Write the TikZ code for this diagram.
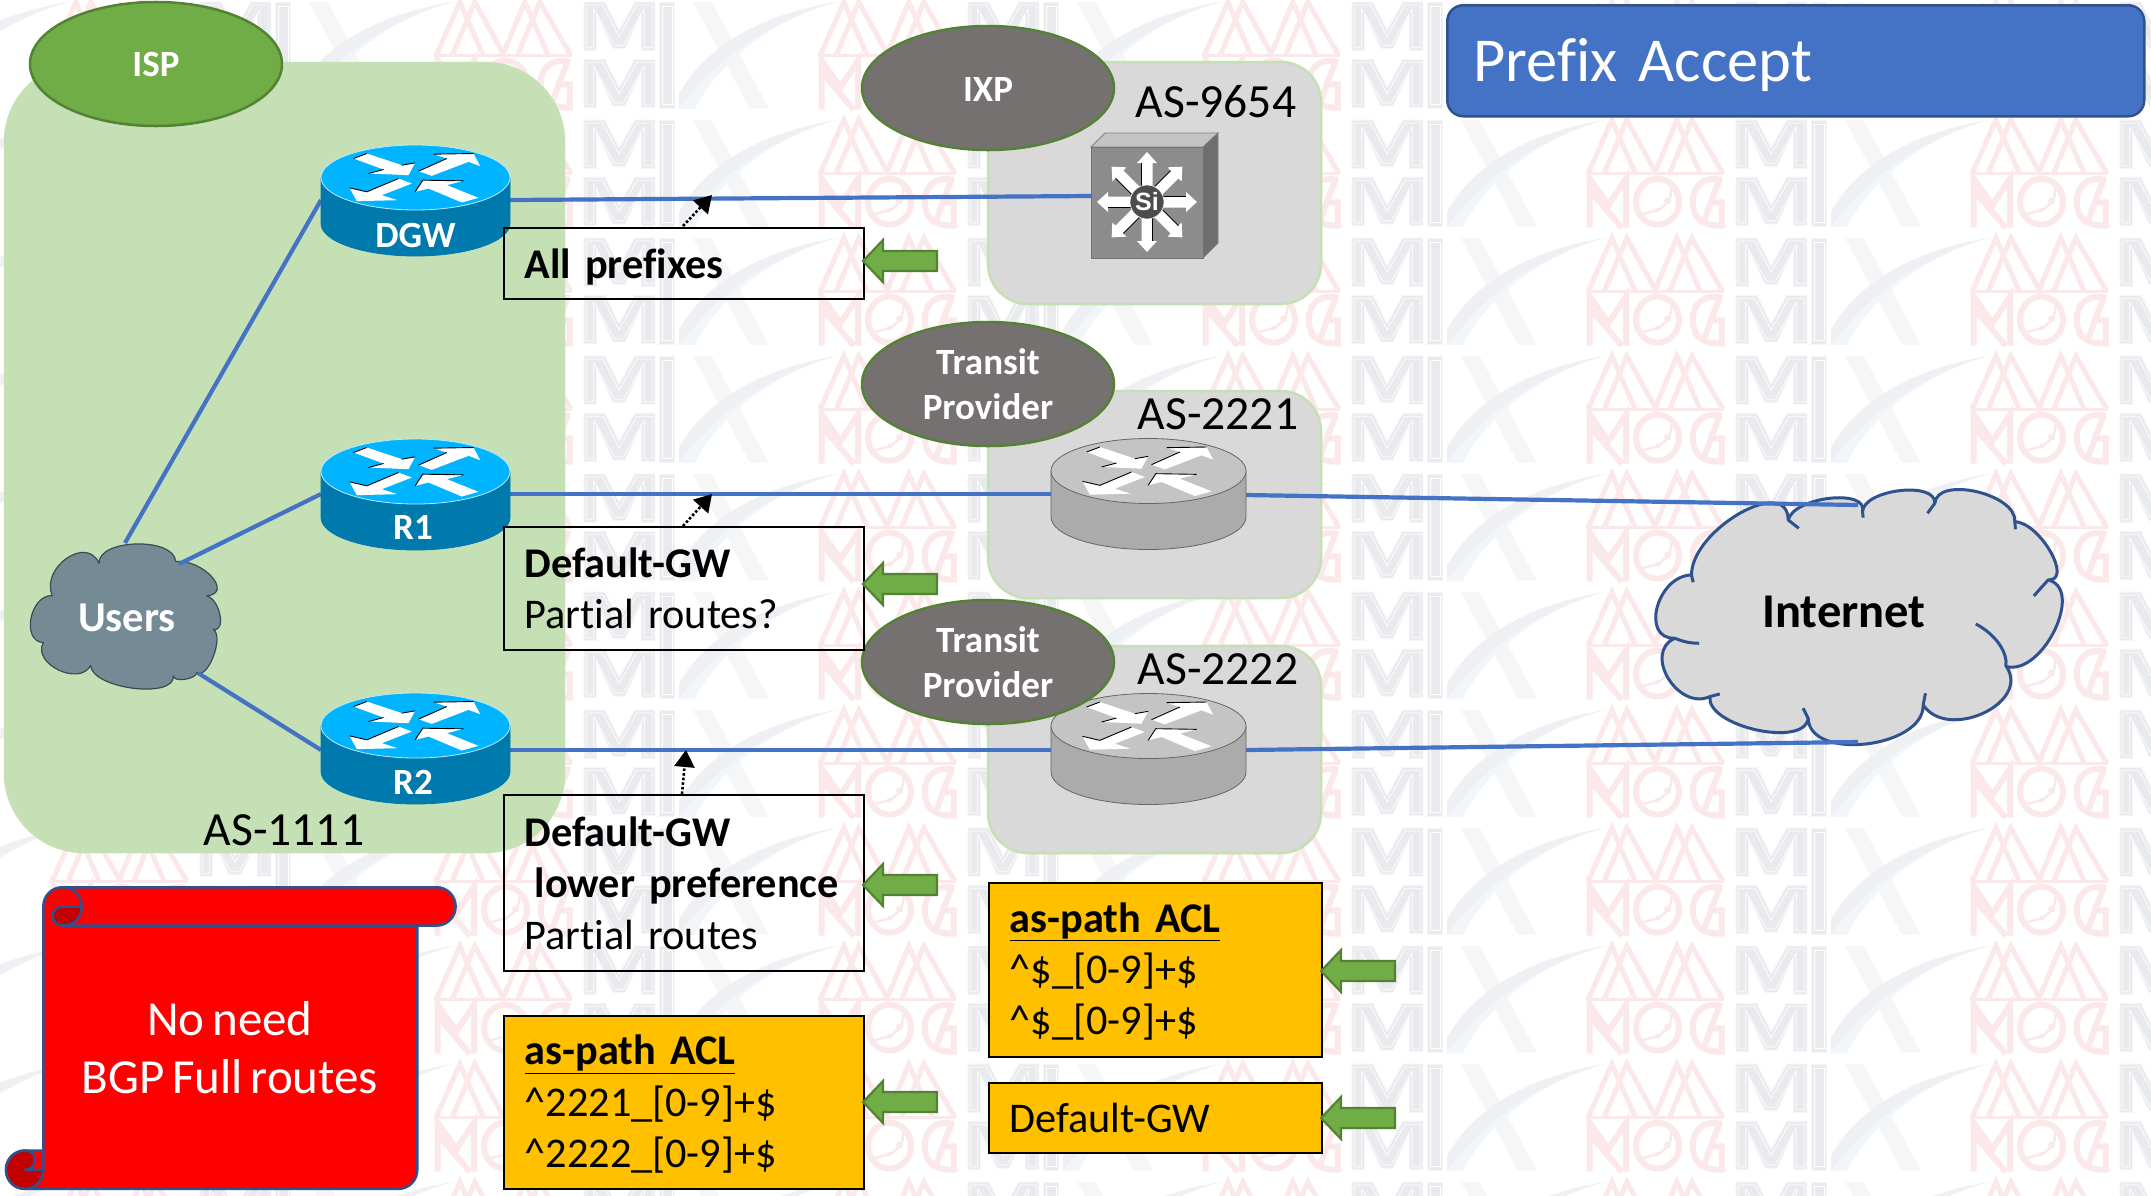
\documentclass[tikz,border=0pt]{standalone}
\usepackage{fontspec}
\setmainfont[Ligatures=NoCommon,WordSpace=0.7,BoldFeatures={WordSpace=0.45}]{Carlito}
\newfontfamily\sifont{Liberation Sans}
\usetikzlibrary{calc,arrows.meta}
\definecolor{lnblue}{HTML}{4472C4}
\definecolor{dkblue}{HTML}{2F528F}
\definecolor{lgreen}{HTML}{C5E0B4}
\definecolor{mgreen}{HTML}{70AD47}
\definecolor{dgreen}{HTML}{548235}
\definecolor{ggrey}{HTML}{D9D9D9}
\definecolor{egrey}{HTML}{767171}
\definecolor{yel}{HTML}{FFC000}
\definecolor{wmr}{HTML}{FBE9EA}
\definecolor{wmg}{HTML}{E8EAEE}
\definecolor{wms}{HTML}{EEF0F3}
\definecolor{wmx}{HTML}{F6F6F6}
\definecolor{wmb}{HTML}{F1F6FA}
\definecolor{cldgrey}{HTML}{748B96}
\definecolor{cldedge}{HTML}{3C4B50}
\definecolor{rtop}{HTML}{00B4FF}
\definecolor{rside}{HTML}{0079AC}
\definecolor{redge}{HTML}{BFE9FB}
\def\lobe#1#2#3{.. controls ($0.3333*(#1)+1.3333*(#2)-0.6667*(#3)$) and ($0.3333*(#3)+1.3333*(#2)-0.6667*(#1)$) .. (#3)}
\def\dn#1#2{\raisebox{-#1}[\height][\depth]{#2}}
\tikzset{
  link/.style={draw=lnblue,line width=4.2pt},
  hint/.style={draw=black,line width=2.6pt,dotted,-{Stealth[length=17pt,width=20pt,inset=0pt]}},
  grouparea/.style={fill=ggrey,draw=lgreen,line width=2.5pt,rounded corners=40pt},
  oval/.style={draw=dgreen,line width=2.5pt},
  txtbox/.style={anchor=north west,draw=black,line width=2.2pt,align=left,inner sep=0pt,font=\fontsize{42.3}{51.4}\selectfont},
  ybox/.style={txtbox,fill=yel},
  wtxt/.style={text=white,font=\fontsize{37}{45}\selectfont\bfseries,align=center,inner sep=0pt},
  blk/.style={text=black,font=\fontsize{47.6}{56}\selectfont,inner sep=0pt},
  pics/rtr/.style n args={5}{code={
    \fill[#2] (-#4 pt,0)--(-#4 pt,46) arc[start angle=180,end angle=360,x radius=#4 pt,y radius=32.5pt]--(#4 pt,0)--cycle;
    \draw[#3,line width=.8pt] (-#4 pt,0)--(-#4 pt,46) arc[start angle=180,end angle=360,x radius=#4 pt,y radius=32.5pt]--(#4 pt,0);
    \filldraw[fill=#1,draw=#5,line width=.8pt] (0,0) ellipse[x radius=#4 pt,y radius=32.5pt];
    \begin{scope}[x=.3333pt,y=-.3333pt]
      \fill[white] (-186,-57)--(-146,-72)--(-41,-37)--(-1,-44)--(-21,-7)--(-141,-12)--(-96,-24)--cycle;
      \fill[white] (9,-19)--(94,-57)--(54,-70)--(174,-72)--(194,-34)--(159,-47)--(49,-5)--cycle;
      \fill[white] (-198,31)--(-146,43)--(-51,3)--(-11,18)--(-101,53)--(-54,68)--(-176,71)--cycle;
      \fill[white] (-1,43)--(22,8)--(144,10)--(94,23)--(189,61)--(139,75)--(39,33)--cycle;
      \draw[black,line width=.9pt] (-186,-57)--(-146,-72) (-41,-37)--(-1,-44) (-141,-12)--(-96,-24)
        (9,-19)--(94,-57) (54,-70)--(174,-72)
        (-146,43)--(-51,3) (-198,31)--(-146,43)
        (-1,43)--(22,8)--(144,10);
    \end{scope}
  }},
  pics/garrow/.style={code={
    \filldraw[fill=mgreen,draw=dgreen,line width=2.2pt,line join=miter] (0,0)--(20,-21)--(20,-10)--(74,-10)--(74,10)--(20,10)--(20,21)--cycle;
  }},
  pics/wmtile/.style={code={
    \begin{scope}[x=.3333pt,y=-.3333pt,shift={(-16,-9)}]
      \fill[wmx] (795,15)--(850,15)--(1022,335)--(965,335)--cycle;
      \fill[wms] (752,291) .. controls (830,150) and (1000,50) .. (1229,15) .. controls (1080,50) and (880,170) .. (752,336)--cycle;
      \fill[wmb] (752,336) .. controls (830,235) and (930,140) .. (1060,80) .. controls (960,140) and (860,220) .. (799,336)--cycle;
      \draw[wmr,line width=5pt,line join=miter,line cap=butt]
        (24,175)--(95,15)--(165,175) (72,175)--(140,15)--(225,170)--(290,15)--(360,175) (268,175)--(335,15)--(428,175);
      \fill[wmr] (17,170)--(432,170)--(432,180)--(17,180)--cycle;
      \draw[wmr,line width=6pt,line join=miter]
        (28,338)--(28,190)--(85,270)--(138,190)--(138,338) (28,225)--(125,338);
      \draw[wmr,line width=6pt] (232,260) ellipse[x radius=21.5pt,y radius=23pt];
      \draw[wmr,line width=2.5pt] (185,298)--(235,285)--(268,258)--(275,218);
      \fill[wmr] (262,258) circle[radius=3.5pt] (232,285) circle[radius=2.5pt];
      \draw[wmr,line width=6pt,line join=miter] (425,195) .. controls (360,180) and (335,225) .. (338,265) .. controls (340,310) and (365,332) .. (425,332)--(425,262)--(392,262)--(368,330) (420,190)--(392,262);
      \filldraw[fill=wmg,draw=wmx,line width=1pt,line join=round]
        (468,15)--(530,15)--(573,100)--(620,15)--(680,15)--(680,160)--(640,160)--(640,50)--(590,155)--(555,155)--(505,50)--(505,160)--(468,160)--cycle
        (468,187)--(530,187)--(573,272)--(620,187)--(680,187)--(680,332)--(640,332)--(640,222)--(590,327)--(555,327)--(505,222)--(505,332)--(468,332)--cycle;
      \draw[white,line width=.7pt,line join=round]
        (476,24)--(524,24)--(573,118)--(626,24)--(672,24)--(672,152)--(648,152)--(648,36)--(585,146)--(560,146)--(497,36)--(497,152)--(476,152)--cycle
        (476,196)--(524,196)--(573,290)--(626,196)--(672,196)--(672,324)--(648,324)--(648,208)--(585,318)--(560,318)--(497,208)--(497,324)--(476,324)--cycle;
      \filldraw[fill=wmg,draw=wmx,line width=1pt] (695,15) rectangle (740,335);
      \draw[white,line width=.8pt] (702,28) rectangle (733,322);
    \end{scope}
  }}
}
\begin{document}
\begin{tikzpicture}[x=1pt,y=-1pt]
\useasboundingbox (0,0) rectangle (2151,1195);
\fill[white] (0,0) rectangle (2151,1195);
\begin{scope}
\clip (0,0) rectangle (2151,1195);
\foreach \tx in {-334.5,49.5,433.5,817.5,1201.5,1585.5,1969.5}
  \foreach \ty in {0,118,236,354,472,590,708,826,944,1062,1180}
    \pic at (\tx,\ty) {wmtile};
\end{scope}

% areas
\filldraw[fill=lgreen,draw=lgreen,rounded corners=80pt] (4,62) rectangle (565,853);
\path[grouparea] (988,62) rectangle (1321,304);
\path[grouparea] (988,391) rectangle (1321,598);
\path[grouparea] (988,646) rectangle (1321,853);

% anchors of the connectors
\coordinate (dgwE) at (510,200);
\coordinate (dgwW) at (321,200);
\coordinate (r1E) at (510,494);
\coordinate (r1W) at (321,494);
\coordinate (r2E) at (510,750);
\coordinate (r2W) at (321,750);
\coordinate (swW) at (1091,196);
\coordinate (g1W) at (1052,494);
\coordinate (g1E) at (1246,495);
\coordinate (g2W) at (1052,750);
\coordinate (g2E) at (1246,750);
\coordinate (inetA) at (1858,505);
\coordinate (inetB) at (1858,742);
\coordinate (usrA) at (125,543);
\coordinate (usrB) at (179,564);
\coordinate (usrC) at (198,673);
\coordinate (tipA) at (712,195);
\coordinate (tipB) at (712,494);
\coordinate (tipC) at (686,750);
\coordinate (srcA) at (683,226);
\coordinate (srcB) at (683,526);
\coordinate (srcC) at (682,794);

% links
\draw[link] (dgwE)--(swW);
\draw[link] (r1E)--(g1W);
\draw[link] (r2E)--(g2W);

% clouds
\begin{scope}[x=.3333pt,y=-.3333pt,shift={(4920,1410)}]
  \filldraw[fill=ggrey,draw=dkblue,line width=3pt,line join=round]
    (155,315) \lobe{155,315}{300,130}{445,150} \lobe{445,150}{570,85}{668,125}
    \lobe{668,125}{780,62}{885,100} \lobe{885,100}{1010,65}{1125,155}
    \lobe{1125,155}{1232,245}{1225,330} \lobe{1225,330}{1245,480}{1100,590}
    \lobe{1100,590}{1030,730}{850,705} \lobe{850,705}{680,822}{505,745}
    \lobe{505,745}{350,780}{210,680} \lobe{210,680}{85,625}{105,505}
    \lobe{105,505}{52,412}{155,315} -- cycle;
  \draw[dkblue,line width=3pt]
    (160,337)--(155,315) (445,150)--(477,175) (668,125)--(670,143) (885,100)--(863,130)
    (1125,155)--(1127,178) (1225,330)--(1182,378) (850,705)--(857,670) (505,745)--(490,715)
    (210,680)--(240,672) (105,505) .. controls (130,515) and (150,520) .. (178,520)
    (1008,462) .. controls (1070,495) and (1105,550) .. (1098,590);
\end{scope}
\draw[link] (g1E)--(inetA);
\draw[link] (g2E)--(inetB);
\begin{scope}[x=.3333pt,y=-.3333pt,shift={(60,1560)}]
  \filldraw[fill=cldgrey,draw=cldedge,line width=1.2pt,line join=round]
    (237,130) \lobe{237,130}{350,72}{467,125} \lobe{467,125}{575,170}{560,228}
    \lobe{560,228}{600,285}{580,328} \lobe{580,328}{580,410}{530,458}
    \lobe{530,458}{495,478}{460,468} \lobe{460,468}{340,505}{212,437}
    \lobe{212,437}{115,450}{70,368} \lobe{70,368}{33,295}{97,227}
    \lobe{97,227}{140,115}{237,130} -- cycle;
\end{scope}

\draw[link] (dgwW)--(usrA);
\draw[link] (r1W)--(usrB);
\draw[link] (r2W)--(usrC);

% routers
\pic at (415.5,177.5) {rtr={rtop}{rside}{rside}{94.5}{redge}};
\pic at (415.5,471.5) {rtr={rtop}{rside}{rside}{94.5}{redge}};
\pic at (415.5,725.5) {rtr={rtop}{rside}{rside}{94.5}{redge}};
\pic at (1148.5,471) {rtr={black!23}{black!33}{black!60}{97.5}{black!60}};
\pic at (1148.5,726) {rtr={black!23}{black!33}{black!60}{97.5}{black!60}};

% layer 3 switch
\filldraw[fill=black!23,draw=black!50,line width=.8pt] (1091,147)--(1105,133)--(1218,133)--(1203,147)--cycle;
\filldraw[fill=black!57,draw=black!50,line width=.8pt] (1203,147)--(1218,133)--(1218,243)--(1203,258)--cycle;
\filldraw[fill=black!45,draw=black!55,line width=.8pt] (1091,147) rectangle (1203,258);
\foreach \a in {0,45,...,315}{
  \begin{scope}[shift={(1147,202)},rotate=\a]
    \fill[white] (0,-5.5)--(39,-5.5)--(39,-10)--(50,0)--(39,10)--(39,5.5)--(0,5.5)--cycle;
    \draw[black,line width=.8pt] (15,-5.5)--(39,-5.5);
  \end{scope}
}
\filldraw[fill=black!70,draw=white,line width=.6pt] (1147,202) circle[radius=17pt];
\node[inner sep=0pt,text=white,font=\sifont\bfseries\fontsize{25}{30}\selectfont] (si) at (1147,202) {Si};

% ovals
\filldraw[fill=mgreen,oval] (156,64) ellipse[x radius=126pt,y radius=62pt];
\filldraw[fill=egrey,oval] (988,88) ellipse[x radius=126pt,y radius=62pt];
\filldraw[fill=egrey,oval] (988,384) ellipse[x radius=126pt,y radius=62pt];
\filldraw[fill=egrey,oval] (988,662) ellipse[x radius=126pt,y radius=62pt];

% text on shapes
\node[wtxt] (isp) at (156,64) {ISP};
\node[wtxt] (ixp) at (988,89) {IXP};
\node[wtxt] (tr1) at (988,384) {Transit\\Provider};
\node[wtxt] (tr2) at (988,662) {Transit\\Provider};
\node[wtxt] (dgw) at (415.5,235) {DGW};
\node[wtxt] (r1) at (413,527) {R1};
\node[wtxt] (r2) at (413,782) {R2};
\node[wtxt,font=\fontsize{42.5}{50}\selectfont\bfseries] (users) at (127,618) {Users};
\node[blk,font=\fontsize{48.5}{56}\selectfont\bfseries] (inet) at (1844,612) {Internet};
\node[blk] (as9654) at (1216,102) {AS-9654};
\node[blk] (as2221) at (1218,414) {AS-2221};
\node[blk] (as2222) at (1218,669) {AS-2222};
\node[blk] (as1111) at (284,830) {AS-1111};

% text boxes
\node[txtbox,minimum width=360pt,minimum height=71pt,text width=339pt] (bxA) at (503,227) {\dn{3pt}{\hspace*{10pt}\textbf{All prefixes}}};
\node[txtbox,minimum width=360pt,minimum height=123pt,text width=339pt] (bxB) at (503,526) {\hspace*{10pt}\textbf{Default-GW}\\\hspace*{10pt}Partial routes?};
\node[txtbox,minimum width=360pt,minimum height=176pt,text width=339pt] (bxC) at (503,794) {\hspace*{10pt}\textbf{Default-GW}\\\hspace*{20pt}\textbf{lower preference}\\\hspace*{10pt}Partial routes};
\node[ybox,minimum width=360pt,minimum height=173pt,text width=339pt] (ylA) at (503,1015) {\dn{1.5pt}{\hspace*{10pt}\underline{\textbf{as-path ACL}}}\\\dn{1.5pt}{\hspace*{10pt}\textasciicircum 2221\_[0-9]+\$}\\\dn{1.5pt}{\hspace*{10pt}\textasciicircum 2222\_[0-9]+\$}};
\node[ybox,minimum width=333pt,minimum height=174pt,text width=312pt] (ylB) at (988,882) {\dn{1.5pt}{\hspace*{10pt}\underline{\textbf{as-path ACL}}}\\\dn{1.5pt}{\hspace*{10pt}\textasciicircum\$\_[0-9]+\$}\\\dn{1.5pt}{\hspace*{10pt}\textasciicircum\$\_[0-9]+\$}};
\node[ybox,minimum width=333pt,minimum height=70pt,text width=312pt] (ylC) at (988,1082) {\hspace*{10pt}Default-GW};

% hints
\draw[hint] (srcA)--(tipA);
\draw[hint] (srcB)--(tipB);
\draw[hint] (srcC)--(tipC);

% block arrows
\pic at (863,261) {garrow};
\pic at (863,584) {garrow};
\pic at (863,885) {garrow};
\pic at (863,1102) {garrow};
\pic at (1321,971) {garrow};
\pic at (1321,1118) {garrow};

% title
\node[anchor=north west,fill=lnblue,draw=dkblue,line width=2.5pt,rounded corners=16pt,minimum width=697pt,minimum height=111pt,inner sep=0pt,text width=671pt,align=left,text=white,font=\fontsize{62.5}{76}\selectfont] (title) at (1446,4) {\dn{4pt}{\hspace*{13pt}Prefix Accept}};

% scroll
\begin{scope}[x=.3333pt,y=-.3333pt,shift={(0,2580)}]
  \filldraw[fill=red,draw=dkblue,line width=2.5pt,line join=round]
    (130,930) [rounded corners=19pt] -- (130,82) -- (1367,82) -- (1367,197) [sharp corners] -- (1252,197) [rounded corners=19pt] -- (1252,987) -- (18,987) -- (18,872) [sharp corners] -- (130,872) -- cycle;
  \filldraw[fill=red!76!black,draw=dkblue,line width=2.5pt,line join=round]
    (190,140)--(245,140) .. controls (245,175) and (220,197) .. (190,197) .. controls (170,197) and (158,185) .. (158,168) .. controls (158,150) and (172,140) .. (190,140)--cycle;
  \draw[dkblue,line width=2.5pt] (190,82) .. controls (225,82) and (245,110) .. (245,140) (190,197)--(1252,197);
  \filldraw[fill=red!76!black,draw=dkblue,line width=2.5pt,line join=round]
    (75,872) .. controls (40,872) and (18,900) .. (18,930) .. controls (18,962) and (42,987) .. (75,987) .. controls (105,987) and (130,962) .. (130,930)--(75,930) .. controls (95,930) and (105,915) .. (105,900) .. controls (105,885) and (95,872) .. (75,872)--cycle;
  \node[text=white,align=center,inner sep=0pt,font=\fontsize{49}{58}\selectfont] (note) at (690,564) {No need\\BGP Full routes};
\end{scope}
\end{tikzpicture}
\end{document}
